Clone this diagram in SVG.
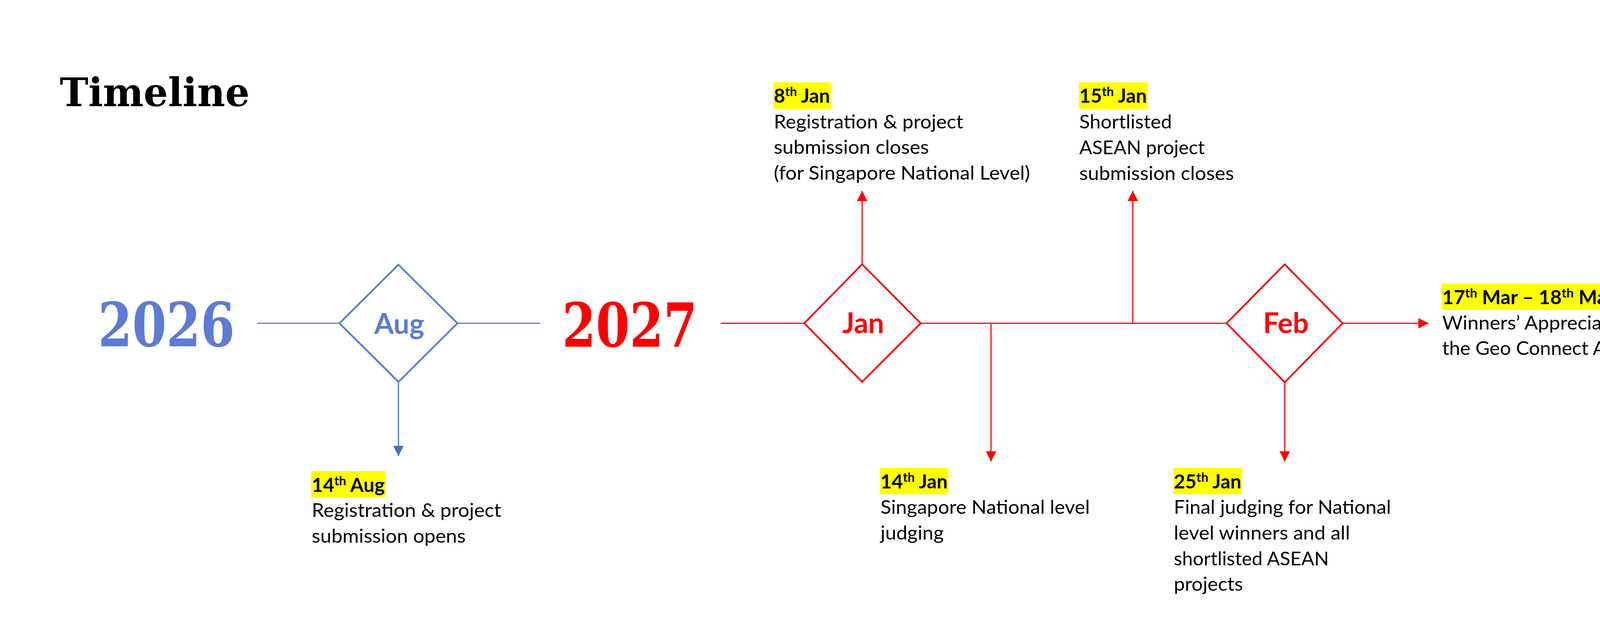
<svg xmlns="http://www.w3.org/2000/svg" width="4465" height="1588" viewBox="0 0 4465 1588">
<defs>
<style>
.title{font-family:"DejaVu Serif","Liberation Serif",serif;font-weight:bold;font-size:101px;fill:#000}
.year{font-family:"DejaVu Serif","Liberation Serif",serif;font-weight:bold;font-size:155px}
.mon{font-family:Lato,"Open Sans",sans-serif;font-weight:bold;font-size:72px;text-anchor:middle}
.body{font-family:Lato,"Open Sans",sans-serif;font-size:49px;fill:#000}
.date{font-family:Lato,"Open Sans",sans-serif;font-weight:bold;font-size:49px;fill:#000}
.sup{font-size:32px}
.hl{fill:#FFFF00}
.bl{stroke:#5B7BD5;fill:none}
.rd{stroke:#FF0000;fill:none}
.ln{stroke-width:3}
.dm{stroke-width:4.5;fill:#fff}
</style>
<marker id="ab" markerUnits="userSpaceOnUse" markerWidth="28" markerHeight="28" refX="26" refY="13.5" orient="auto">
<path d="M0,0 L26,13.5 L0,27 z" fill="#4472C4"/>
</marker>
<marker id="ar" markerUnits="userSpaceOnUse" markerWidth="28" markerHeight="28" refX="26" refY="13.5" orient="auto">
<path d="M0,0 L26,13.5 L0,27 z" fill="#FF0000"/>
</marker>
</defs>
<rect width="4465" height="1588" fill="#fff"/>

<g id="title">
<text class="title" x="153" y="272" textLength="486" lengthAdjust="spacingAndGlyphs">Timeline</text>
</g>

<g id="connectors">
<line class="bl ln" x1="658" y1="828" x2="869" y2="828"/>
<line class="bl ln" x1="1171" y1="828" x2="1382" y2="828"/>
<line x1="1020" y1="978" x2="1020" y2="1168" stroke="#4472C4" stroke-width="3" marker-end="url(#ab)"/>
<line class="rd ln" x1="1845" y1="828" x2="2059" y2="828"/>
<line class="rd ln" x1="2357" y1="828" x2="3140" y2="828"/>
<line class="rd ln" x1="2207" y1="678" x2="2207" y2="489" marker-end="url(#ar)"/>
<line class="rd ln" x1="2900" y1="828" x2="2900" y2="489" marker-end="url(#ar)"/>
<line class="rd ln" x1="2537" y1="830" x2="2537" y2="1182" marker-end="url(#ar)"/>
<line class="rd ln" x1="3289" y1="979" x2="3289" y2="1182" marker-end="url(#ar)"/>
<line class="rd ln" x1="3437" y1="828" x2="3657" y2="828" marker-end="url(#ar)"/>
</g>

<g id="year-2026">
<text class="year" x="251" y="887" fill="#5B7BD5" textLength="350" lengthAdjust="spacingAndGlyphs">2026</text>
</g>
<g id="year-2027">
<text class="year" x="1439" y="888" fill="#FF0000" textLength="346" lengthAdjust="spacingAndGlyphs">2027</text>
</g>

<g id="node-aug">
<polygon class="bl dm" points="1020,678 1171,828 1020,978 869,828"/>
<text class="mon" x="1022" y="855" fill="#5B7BD5">Aug</text>
</g>
<g id="node-jan">
<polygon class="rd dm" points="2207,677 2357,828 2207,978 2059,828"/>
<text class="mon" x="2210" y="853" fill="#FF0000">Jan</text>
</g>
<g id="node-feb">
<polygon class="rd dm" points="3289,677 3437,828 3289,979 3140,828"/>
<text class="mon" x="3292" y="853" fill="#FF0000">Feb</text>
</g>

<g id="event-14aug">
<rect class="hl" x="796" y="1206" width="191" height="68"/>
<text class="date" x="798" y="1260" textLength="187" lengthAdjust="spacingAndGlyphs">14<tspan class="sup" dy="-17">th</tspan><tspan dy="17"> Aug</tspan></text>
<text class="body" x="798" y="1324" textLength="485" lengthAdjust="spacingAndGlyphs">Registration &amp; project</text>
<text class="body" x="798" y="1390" textLength="394" lengthAdjust="spacingAndGlyphs">submission opens</text>
</g>

<g id="event-8jan">
<rect class="hl" x="1980" y="211" width="147" height="68"/>
<text class="date" x="1981" y="263" textLength="144" lengthAdjust="spacingAndGlyphs">8<tspan class="sup" dy="-17">th</tspan><tspan dy="17"> Jan</tspan></text>
<text class="body" x="1981" y="329" textLength="485" lengthAdjust="spacingAndGlyphs">Registration &amp; project</text>
<text class="body" x="1981" y="394" textLength="397" lengthAdjust="spacingAndGlyphs">submission closes</text>
<text class="body" x="1981" y="460" textLength="656" lengthAdjust="spacingAndGlyphs">(for Singapore National Level)</text>
</g>

<g id="event-15jan">
<rect class="hl" x="2762" y="211" width="176" height="68"/>
<text class="date" x="2763" y="263" textLength="173" lengthAdjust="spacingAndGlyphs">15<tspan class="sup" dy="-17">th</tspan><tspan dy="17"> Jan</tspan></text>
<text class="body" x="2763" y="329" textLength="237" lengthAdjust="spacingAndGlyphs">Shortlisted</text>
<text class="body" x="2763" y="395" textLength="321" lengthAdjust="spacingAndGlyphs">ASEAN project</text>
<text class="body" x="2763" y="461" textLength="396" lengthAdjust="spacingAndGlyphs">submission closes</text>
</g>

<g id="event-14jan">
<rect class="hl" x="2253" y="1198" width="175" height="68"/>
<text class="date" x="2254" y="1251" textLength="172" lengthAdjust="spacingAndGlyphs">14<tspan class="sup" dy="-17">th</tspan><tspan dy="17"> Jan</tspan></text>
<text class="body" x="2254" y="1316" textLength="536" lengthAdjust="spacingAndGlyphs">Singapore National level</text>
<text class="body" x="2254" y="1382" textLength="162" lengthAdjust="spacingAndGlyphs">judging</text>
</g>

<g id="event-25jan">
<rect class="hl" x="3004" y="1198" width="176" height="68"/>
<text class="date" x="3005" y="1251" textLength="173" lengthAdjust="spacingAndGlyphs">25<tspan class="sup" dy="-17">th</tspan><tspan dy="17"> Jan</tspan></text>
<text class="body" x="3005" y="1316" textLength="556" lengthAdjust="spacingAndGlyphs">Final judging for National</text>
<text class="body" x="3005" y="1382" textLength="451" lengthAdjust="spacingAndGlyphs">level winners and all</text>
<text class="body" x="3005" y="1448" textLength="397" lengthAdjust="spacingAndGlyphs">shortlisted ASEAN</text>
<text class="body" x="3005" y="1513" textLength="177" lengthAdjust="spacingAndGlyphs">projects</text>
</g>

<g id="event-17mar">
<rect class="hl" x="3691" y="726" width="443" height="68"/>
<text class="date" x="3692" y="779" textLength="441" lengthAdjust="spacingAndGlyphs">17<tspan class="sup" dy="-17">th</tspan><tspan dy="17"> Mar – 18</tspan><tspan class="sup" dy="-17">th</tspan><tspan dy="17"> Mar</tspan></text>
<text class="body" x="3692" y="844" textLength="553" lengthAdjust="spacingAndGlyphs">Winners’ Appreciation at</text>
<text class="body" x="3692" y="909" textLength="478" lengthAdjust="spacingAndGlyphs">the Geo Connect Asia</text>
</g>
</svg>
